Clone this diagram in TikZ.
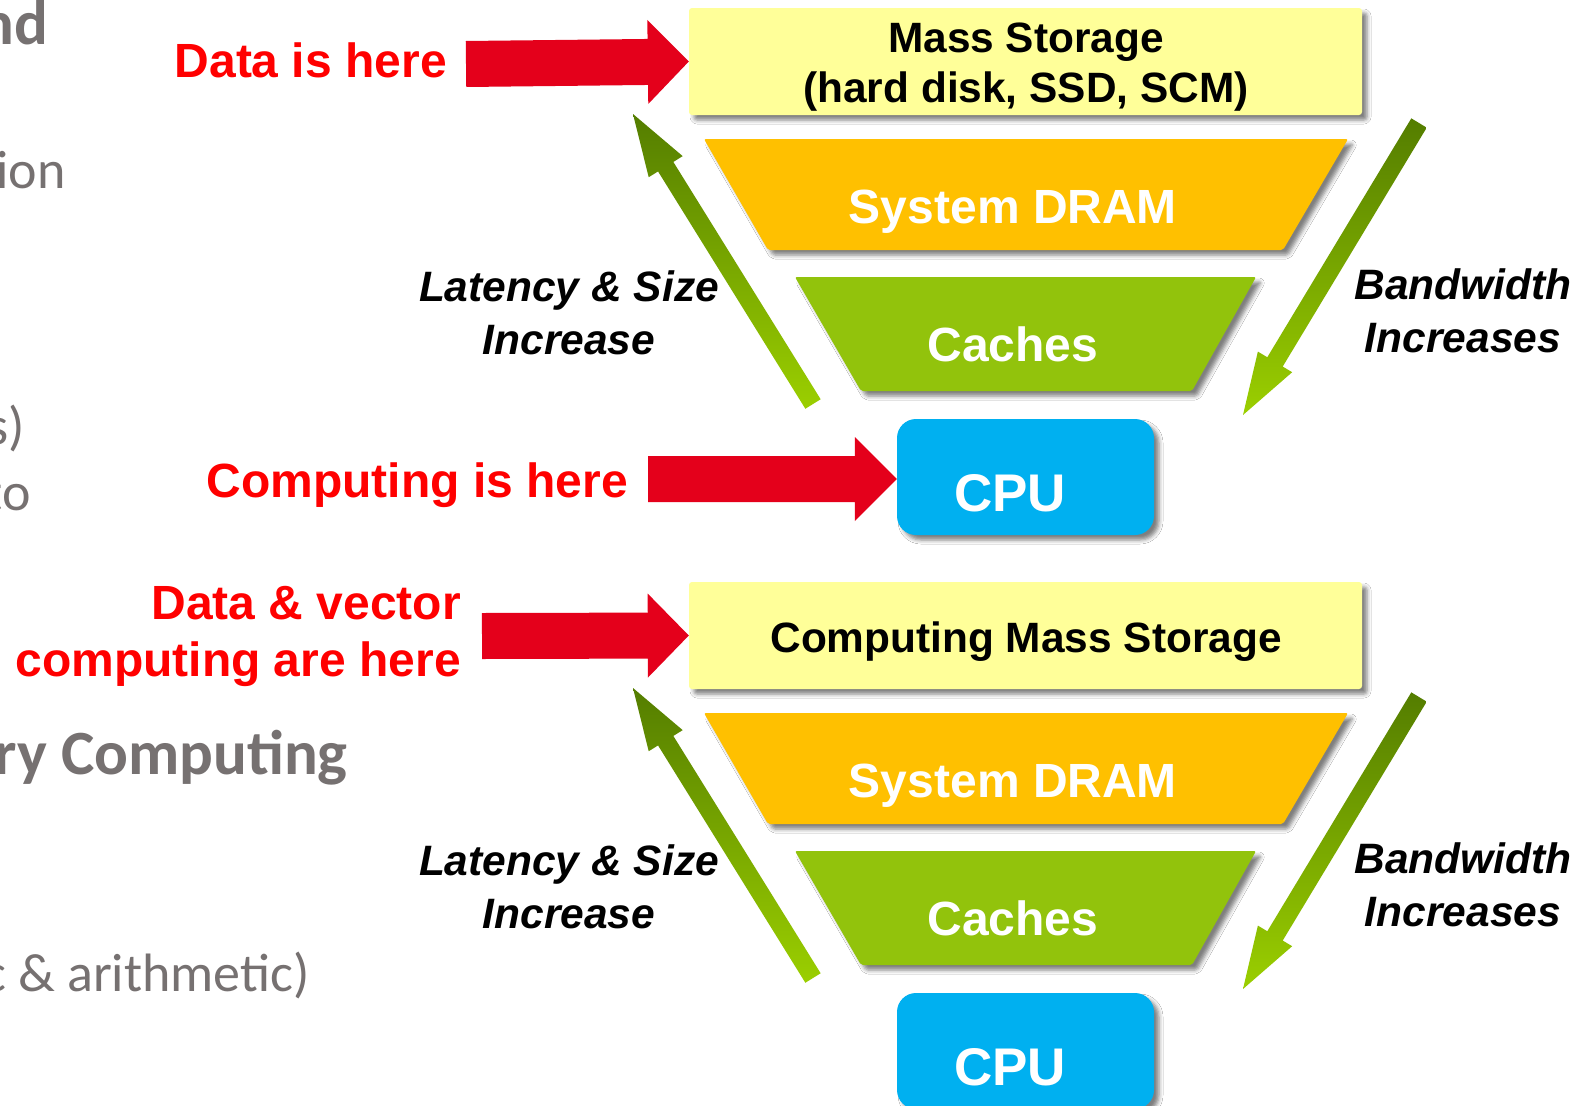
\documentclass[tikz,border=0pt]{standalone}
\usepackage{fontspec}
\setmainfont{Liberation Sans}
\newfontfamily\slidefont{Carlito}
\usetikzlibrary{calc,shadows.blur}

\definecolor{boxyellow}{RGB}{255,255,153}
\definecolor{dramgold}{RGB}{255,192,0}
\definecolor{cachegreen}{RGB}{146,195,12}
\definecolor{cpublue}{RGB}{0,176,240}
\definecolor{arrowred}{RGB}{228,0,27}
\definecolor{labelred}{RGB}{255,0,0}
\definecolor{greendark}{RGB}{84,125,0}
\definecolor{greenlight}{RGB}{155,207,0}
\definecolor{slidegray}{RGB}{118,113,113}

% block arrow: #1 style, #2 tail, #3 tip, #4 half shaft, #5 half head, #6 head length
\newcommand\blockarrow[6]{%
  \path[#1] ($(#2)!#4!90:(#3)$)
    -- ($(#3)!#6!(#2)!#4!-90:(#2)$)
    -- ($(#3)!#6!(#2)!#5!-90:(#2)$)
    -- (#3)
    -- ($(#3)!#6!(#2)!#5!90:(#2)$)
    -- ($(#3)!#6!(#2)!#4!90:(#2)$)
    -- ($(#2)!#4!-90:(#3)$) -- cycle;}

\tikzset{
  softshadow/.style={blur shadow={shadow xshift=5pt, shadow yshift=-5pt,
      shadow blur radius=4pt, shadow opacity=50}},
  storagebox/.style={fill=boxyellow, softshadow, rounded corners=3pt,
      minimum width=673pt, minimum height=107pt, inner sep=0pt},
  cpubox/.style={fill=cpublue, softshadow, rounded corners=19pt,
      minimum width=257pt, minimum height=116pt, inner sep=0pt},
  dramshape/.style={fill=dramgold, softshadow, rounded corners=2pt},
  cacheshape/.style={fill=cachegreen, softshadow, rounded corners=2pt},
  boxtext/.style={inner sep=0pt, anchor=base, font=\bfseries\fontsize{42.4}{50}\selectfont},
  whitetext/.style={inner sep=0pt, anchor=base, text=white, font=\bfseries\fontsize{48}{56}\selectfont},
  cputext/.style={inner sep=0pt, anchor=base, text=white, font=\bfseries\fontsize{53}{60}\selectfont},
  redlabel/.style={inner sep=0pt, anchor=base east, text=labelred, font=\bfseries\fontsize{48}{56}\selectfont},
  sidelabel/.style={inner sep=0pt, anchor=base, font=\bfseries\itshape\fontsize{42.5}{54}\selectfont},
  slidebold/.style={inner sep=0pt, anchor=base east, text=slidegray, font=\slidefont\bfseries\fontsize{63}{72}\selectfont},
  slidetext/.style={inner sep=0pt, anchor=base east, text=slidegray, font=\slidefont\fontsize{54}{64}\selectfont},
  redarrow/.style={fill=arrowred},
  greenarrow/.style={top color=greendark, bottom color=greenlight, draw=none}
}

\begin{document}
\begin{tikzpicture}[x=1pt,y=-1pt]
\clip (0,0) rectangle (1580,1106);
\fill[white] (0,0) rectangle (1580,1106);

% slide text running under the figure on the left
\node[slidebold] (sa) at (48,44) {nd};
\node[slidetext] (sb) at (66,188) {ion};
\node[slidetext] (sc) at (25,444) {s)};
\node[slidetext] (sd) at (31,510) {to};
\node[slidebold] (se) at (348,774) {ry Computing};
\node[slidetext] (sf) at (310,991) {c \& arithmetic)};

% ---------- upper hierarchy ----------
\node[storagebox] (ms1) at (1025.5,61.5) {};
\node[boxtext] (ms1a) at (1026,52) {Mass Storage};
\node[boxtext] (ms1b) at (1026,102) {(hard disk, SSD, SCM)};

\path[dramshape] (704,139) -- (1348,139) -- (1283,250) -- (768,250) -- cycle;
\node[whitetext] (dram1) at (1013,223) {System DRAM};

\path[cacheshape] (795,277) -- (1256,277) -- (1192,391) -- (861,391) -- cycle;
\node[whitetext] (cache1) at (1013,361) {Caches};

\node[cpubox] (cpu1) at (1025.5,477) {};
\node[cputext] (cpu1t) at (1010,511) {CPU};

\node[redlabel] (data1) at (447,77) {Data is here};
\coordinate (r1tail) at (466,64);
\blockarrow{redarrow}{r1tail}{ms1.west}{23pt}{42pt}{41pt}

\node[redlabel] (comp1) at (628,497) {Computing is here};
\coordinate (r2tail) at (648,479);
\coordinate (r2tip) at (cpu1.west |- r2tail);
\blockarrow{redarrow}{r2tail}{r2tip}{23pt}{42pt}{42pt}

\coordinate (g1tail) at (813,404);
\coordinate (g1tip) at (633,114);
\blockarrow{greenarrow}{g1tail}{g1tip}{9pt}{20pt}{62pt}
\coordinate (g2tail) at (1419,123);
\coordinate (g2tip) at (1243,415);
\blockarrow{greenarrow}{g2tail}{g2tip}{9pt}{20pt}{62pt}

\node[sidelabel] (lat1) at (569,301) {Latency \& Size};
\node[sidelabel] (inc1) at (569,354) {Increase};
\node[sidelabel] (bw1) at (1463,299) {Bandwidth};
\node[sidelabel] (bwi1) at (1463,352) {Increases};

% ---------- lower hierarchy ----------
\node[storagebox] (ms2) at (1025.5,635.5) {};
\node[boxtext] (ms2a) at (1026,652) {Computing Mass Storage};

\path[dramshape] (704,713) -- (1348,713) -- (1283,824) -- (768,824) -- cycle;
\node[whitetext] (dram2) at (1013,797) {System DRAM};

\path[cacheshape] (795,851) -- (1256,851) -- (1192,965) -- (861,965) -- cycle;
\node[whitetext] (cache2) at (1013,935) {Caches};

\node[cpubox] (cpu2) at (1025.5,1051) {};
\node[cputext] (cpu2t) at (1010,1085) {CPU};

\node[redlabel] (data2) at (461,619) {Data \& vector};
\node[redlabel] (data2b) at (461,676) {computing are here};
\coordinate (r3tail) at (482,636);
\blockarrow{redarrow}{r3tail}{ms2.west}{23pt}{42pt}{41pt}

\coordinate (g3tail) at (813,978);
\coordinate (g3tip) at (633,688);
\blockarrow{greenarrow}{g3tail}{g3tip}{9pt}{20pt}{62pt}
\coordinate (g4tail) at (1419,697);
\coordinate (g4tip) at (1243,989);
\blockarrow{greenarrow}{g4tail}{g4tip}{9pt}{20pt}{62pt}

\node[sidelabel] (lat2) at (569,875) {Latency \& Size};
\node[sidelabel] (inc2) at (569,928) {Increase};
\node[sidelabel] (bw2) at (1463,873) {Bandwidth};
\node[sidelabel] (bwi2) at (1463,926) {Increases};
\end{tikzpicture}
\end{document}
